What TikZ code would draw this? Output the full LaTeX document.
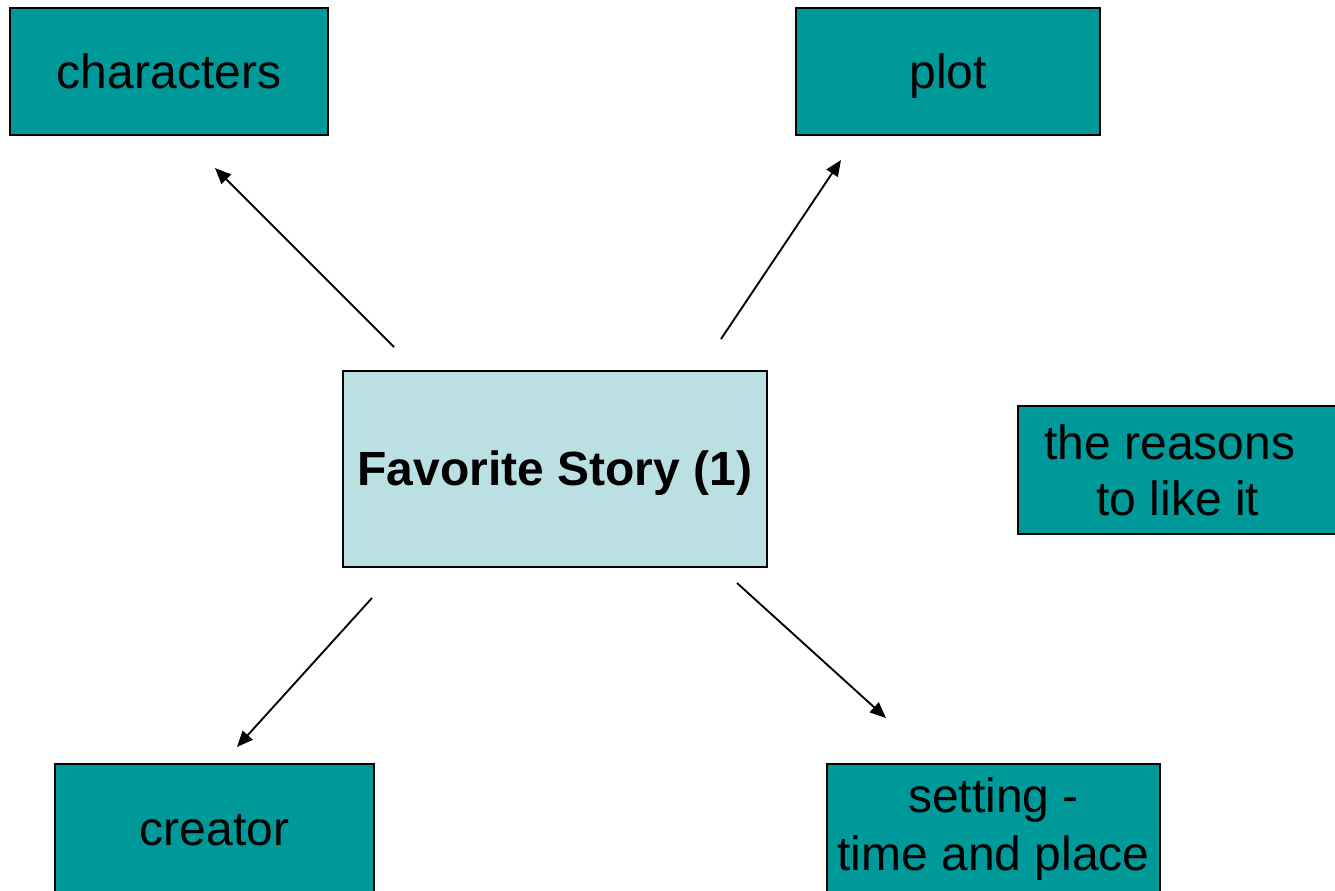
\documentclass[tikz,border=0pt]{standalone}
\usepackage{fontspec}
\setmainfont{Liberation Sans}
\usetikzlibrary{arrows.meta}
\definecolor{teal1}{HTML}{009999}
\definecolor{lightb}{HTML}{BBE0E3}
\begin{document}
\begin{tikzpicture}[x=0.75pt,y=-0.75pt,
  box/.style={draw=black,line width=1pt,fill=teal1,inner sep=0pt,align=center,
    font=\fontsize{36pt}{42pt}\selectfont},
  oneline/.style={text height=32.6pt,text depth=7.6pt},
  centerbox/.style={box,oneline,fill=lightb,font=\fontsize{36pt}{42pt}\selectfont\bfseries},
  conn/.style={line width=1.4pt,-{Triangle[length=12pt,width=10pt]}}]
\useasboundingbox (0,0) rectangle (1335,891);
\clip (0,0) rectangle (1335,891);
\node[box,oneline,minimum width=318*0.75pt,minimum height=127*0.75pt] (characters) at (169,71.5) {characters};
\node[box,oneline,minimum width=304*0.75pt,minimum height=127*0.75pt] (plot) at (948,71.5) {plot};
\node[centerbox,minimum width=424*0.75pt,minimum height=196*0.75pt] (story) at (555,469) {Favorite Story (1)};
\node[box,minimum width=320*0.75pt,minimum height=128*0.75pt] (reasons) at (1178,470) {the reasons\hspace*{12pt}\\ to like it};
\node[box,minimum width=319*0.75pt,minimum height=130*0.75pt,oneline] (creator) at (214.5,829) {creator};
\node[box,minimum width=333*0.75pt,minimum height=130*0.75pt,font=\fontsize{36pt}{44pt}\selectfont] (setting) at (993.5,829) {setting -\\time and place};
\coordinate (a1s) at (394,347); \coordinate (a1e) at (215,168);
\coordinate (a2s) at (721,339); \coordinate (a2e) at (841,160);
\coordinate (a3s) at (372,598); \coordinate (a3e) at (237,747);
\coordinate (a4s) at (737,583); \coordinate (a4e) at (886,718);
\draw[conn] (a1s) -- (a1e);
\draw[conn] (a2s) -- (a2e);
\draw[conn] (a3s) -- (a3e);
\draw[conn] (a4s) -- (a4e);
\end{tikzpicture}
\end{document}
